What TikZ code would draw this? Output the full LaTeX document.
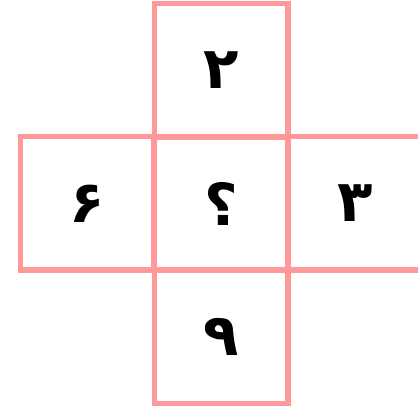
\documentclass[tikz,border=0pt]{standalone}
\usepackage{fontspec}
\newfontfamily\arabicfont[Script=Arabic]{DejaVu Sans}
\TeXXeTstate=1
\definecolor{cellpink}{RGB}{255,153,153}
\tikzset{
  cell/.style={draw=cellpink, line width=5.5pt, minimum size=133.5pt, inner sep=0pt,
    font=\arabicfont\bfseries\fontsize{58}{68}\selectfont}
}
\begin{document}
\begin{tikzpicture}[x=1pt,y=1pt]
\useasboundingbox (0,0) rectangle (418,410);

\node[cell] (top) at (221,339.5) {\beginR ۲\endR};
\node[cell] (left) at (87,206.5) {\beginR ۶\endR};
\node[cell] (mid) at (221,206.5) {\beginR ؟\endR};
\node[cell] (right) at (355,206.5) {\beginR ۳\endR};
\node[cell] (bottom) at (221,73.5) {\beginR ۹\endR};
\end{tikzpicture}
\end{document}
